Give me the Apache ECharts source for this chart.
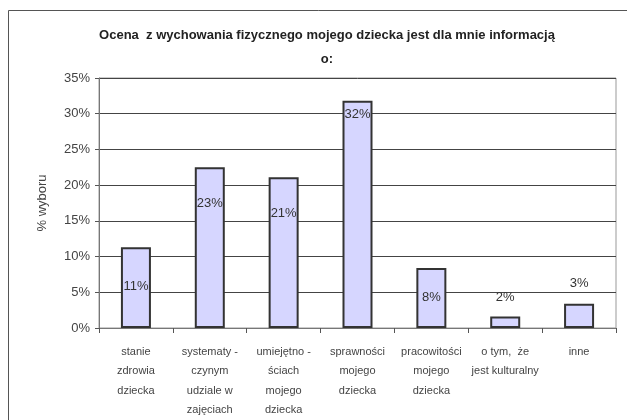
<!DOCTYPE html>
<html><head><meta charset="utf-8">
<script src="https://cdn.jsdelivr.net/npm/echarts@6/dist/echarts.min.js"></script>
<style>html,body{margin:0;padding:0;background:#fff}#c{width:627px;height:420px}</style>
</head><body><div id="c"></div>
<script>
var categories = ["stanie\nzdrowia\ndziecka","systematy -\nczynym\nudziale w\nzajęciach","umiejętno -\nściach\nmojego\ndziecka","sprawności\nmojego\ndziecka","pracowitości\nmojego\ndziecka","o tym,  że\njest kulturalny","inne"];
var values = [11.3, 22.5, 21.1, 31.8, 8.4, 1.6, 3.4];
var yTicks = [0,5,10,15,20,25,30,35];
var labelOffsets = [[0,28],[0,25],[0,25],[0,2],[0,18],[0,-8],[0,-9]];
var labelPositions = ['insideTop','insideTop','insideTop','insideTop','insideTop','top','top'];

var chart = echarts.init(document.getElementById('c'));
var data = values.map(function(v,i){
  return {value:v, label:{position:labelPositions[i], offset:labelOffsets[i]}};
});
chart.setOption({
  animation:false,
  title:{text:'Ocena  z wychowania fizycznego mojego dziecka jest dla mnie informacją\n\no:',left:322,textAlign:'center',top:24,
    textStyle:{fontFamily:'Liberation Sans, Arial',fontSize:13,fontWeight:'bold',color:'#222',lineHeight:12}},
  graphic:[{type:'rect',shape:{x:8.5,y:10.5,width:640,height:440},style:{fill:'none',stroke:'#555',lineWidth:1},silent:true}],
  grid:{left:99,right:11,top:78,bottom:92,show:true,borderColor:'#999',borderWidth:1},
  xAxis:{type:'category',data:categories,
    axisLine:{lineStyle:{color:'#777',width:1}},
    axisTick:{show:true,length:5,lineStyle:{color:'#555'}},
    axisLabel:{interval:0,color:'#444',fontFamily:'Liberation Sans, Arial',fontSize:11,lineHeight:19.5,margin:14}},
  yAxis:{type:'value',min:0,max:35,interval:5,name:'% wyboru',nameLocation:'middle',nameGap:50,
    nameTextStyle:{fontFamily:'Liberation Sans, Arial',fontSize:13,color:'#444'},
    axisLine:{show:true,lineStyle:{color:'#777'}},
    axisTick:{show:true,length:4,lineStyle:{color:'#555'}},
    axisLabel:{color:'#444',fontFamily:'Liberation Sans, Arial',fontSize:13,margin:9,
      formatter:function(v){return yTicks.indexOf(v)>=0? v+'%':'';}},
    splitLine:{lineStyle:{color:'#444',width:1}}},
  series:[{type:'bar',data:data,barWidth:30,
    itemStyle:{color:'#d6d6ff',borderColor:'#333',borderWidth:2},
    label:{show:true,color:'#333',fontFamily:'Liberation Sans, Arial',fontSize:13,
      formatter:function(p){return Math.round(p.value)+'%';}}}]
});
</script></body></html>
